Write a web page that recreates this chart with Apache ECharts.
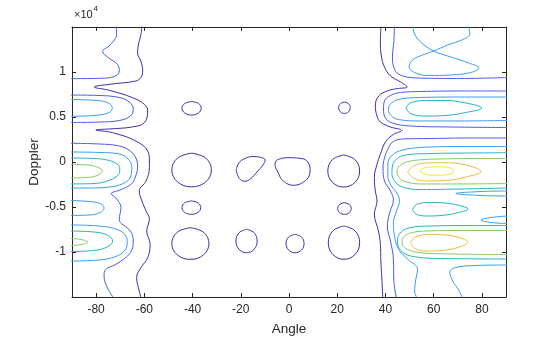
<!DOCTYPE html>
<html><head><meta charset="utf-8">
<script src="https://cdn.jsdelivr.net/npm/echarts@6/dist/echarts.min.js"></script>
<style>html,body{margin:0;padding:0;background:#fff}#c{width:560px;height:337px}</style>
</head><body><div id="c"></div>
<script>
const angleTicks = [-80,-60,-40,-20,0,20,40,60,80];
const dopplerTicks = [-1,-0.5,0,0.5,1];
const levelColors = ['#3e2ea6','#4a5bec','#3a9cf0','#1fb6c2','#88c966','#f6b743','#f3ea22'];

// level 1 (dark)
const c1Left = [[-61.0,1.52],[-61.4,1.42],[-62.4,1.31],[-62.8,1.21],[-61.4,1.12],[-60.7,1.01],[-61.4,0.94],[-63.5,0.9],[-74.6,0.863],[-80.8,0.833],[-74.6,0.797],[-64.9,0.715],[-60.0,0.641],[-58.6,0.567],[-60.0,0.437],[-64.9,0.39],[-74.6,0.367],[-80.1,0.356],[-73.2,0.326],[-63.5,0.233],[-58.6,0.122],[-57.9,0.011],[-57.9,-0.063],[-59.3,-0.211],[-62.1,-0.322],[-61.0,-0.433],[-59.3,-0.544],[-57.9,-0.633],[-59.0,-0.767],[-57.6,-0.914],[-58.6,-1.063],[-61.4,-1.174],[-63.2,-1.286],[-62.1,-1.433],[-61.3,-1.52]];
const c1Right = [[38.2,1.52],[37.9,1.344],[38.3,1.178],[39.6,1.056],[42.1,0.956],[46.25,0.889],[49.0,0.833],[45.4,0.817],[41.25,0.794],[37.2,0.733],[35.8,0.622],[36.5,0.511],[37.9,0.444],[42.1,0.389],[46.7,0.35],[43.3,0.306],[40.0,0.222],[37.9,0.086],[36.5,-0.026],[35.4,-0.174],[35.8,-0.322],[36.5,-0.433],[35.4,-0.578],[37.1,-0.767],[37.9,-0.914],[38.1,-1.1],[38.5,-1.289],[38.9,-1.52]];
const blobA = [[-40.4,0.672],[-37.56,0.65],[-36.4,0.597],[-37.56,0.544],[-40.4,0.522],[-43.24,0.544],[-44.4,0.597],[-43.24,0.65],[-40.4,0.672]];
const blobB = [[23,0.666],[24.7,0.648],[25.4,0.603],[24.7,0.558],[23,0.54],[21.3,0.558],[20.6,0.603],[21.3,0.648],[23,0.666]];
const blobC = [[-40.4,0.098],[-34.58,0.044],[-32.2,-0.089],[-34.58,-0.222],[-40.4,-0.276],[-46.22,-0.222],[-48.6,-0.089],[-46.22,0.044],[-40.4,0.098]];
const blobD = [[-21.9,-0.089],[-20.8,-0.011],[-18.3,0.039],[-15.0,0.061],[-11.7,0.05],[-9.9,0.022],[-10.8,-0.033],[-13.3,-0.111],[-15.8,-0.183],[-18.3,-0.214],[-20.6,-0.183],[-21.9,-0.089]];
const blobE = [[-5.1,0.022],[-1.0,0.048],[4.6,0.041],[7.4,0.011],[8.75,-0.081],[7.4,-0.192],[1.8,-0.259],[-2.4,-0.211],[-4.5,-0.119],[-5.8,-0.026],[-5.1,0.022]];
const blobF = [[22.7,0.078],[27.39,0.026],[29.3,-0.1],[27.39,-0.226],[22.7,-0.278],[18.01,-0.226],[16.1,-0.1],[18.01,0.026],[22.7,0.078]];
const blobG = [[-40.5,-0.433],[-37.73,-0.454],[-36.6,-0.507],[-37.73,-0.56],[-40.5,-0.581],[-43.27,-0.56],[-44.4,-0.507],[-43.27,-0.454],[-40.5,-0.433]];
const blobH = [[23,-0.452],[24.99,-0.471],[25.8,-0.517],[24.99,-0.563],[23,-0.582],[21.01,-0.563],[20.2,-0.517],[21.01,-0.471],[23,-0.452]];
const blobI = [[-40.9,-0.73],[-35.43,-0.781],[-33.2,-0.906],[-35.43,-1.031],[-40.9,-1.082],[-46.37,-1.031],[-48.6,-0.906],[-46.37,-0.781],[-40.9,-0.73]];
const blobJ = [[-17.6,-0.748],[-14.48,-0.786],[-13.2,-0.878],[-14.48,-0.97],[-17.6,-1.008],[-20.72,-0.97],[-22,-0.878],[-20.72,-0.786],[-17.6,-0.748]];
const blobK = [[2.5,-0.804],[5.16,-0.834],[6.25,-0.906],[5.16,-0.978],[2.5,-1.008],[-0.16,-0.978],[-1.25,-0.906],[-0.16,-0.834],[2.5,-0.804]];
const blobL = [[22.8,-0.711],[27.42,-0.765],[29.3,-0.896],[27.42,-1.027],[22.8,-1.081],[18.18,-1.027],[16.3,-0.896],[18.18,-0.765],[22.8,-0.711]];

// level 2
const c2LeftTop = [[-71.7,1.52],[-71.5,1.422],[-74.2,1.3],[-77.3,1.228],[-75.0,1.161],[-71.1,1.083],[-70.4,1.011],[-72.5,0.95],[-78.75,0.93],[-90.5,0.926]];
const c2LeftLobe = [[-90.5,0.744],[-78.75,0.739],[-70.4,0.717],[-66.25,0.667],[-64.6,0.589],[-65.8,0.511],[-70.4,0.461],[-78.75,0.444],[-90.5,0.439]];
const c2LeftLow = [[-90.5,0.208],[-78.75,0.2],[-70.4,0.178],[-65.8,0.122],[-63.3,0.033],[-62.8,-0.056],[-63.75,-0.167],[-65.5,-0.248],[-70.4,-0.314],[-73.75,-0.352],[-71.8,-0.4],[-69.7,-0.508],[-70.4,-0.637],[-65.8,-0.767],[-64.6,-0.878],[-65.8,-1.008],[-71.8,-1.137],[-76.0,-1.192],[-76.7,-1.267],[-75.3,-1.397],[-72.5,-1.52]];
const c2RightTop = [[43.75,1.52],[43.5,1.344],[42.9,1.167],[43.5,1.05],[45.4,0.978],[50.4,0.939],[58.75,0.93],[71.25,0.928],[90.5,0.939]];
const c2RightLobe = [[90.5,0.789],[71.25,0.789],[54.6,0.783],[46.25,0.772],[42.1,0.739],[39.6,0.678],[39.2,0.589],[40.0,0.489],[42.9,0.433],[50.4,0.4],[67.1,0.389],[90.5,0.383]];
const c2RightLow = [[90.5,0.267],[75.4,0.267],[58.75,0.261],[47.5,0.256],[43.3,0.228],[41.25,0.156],[39.6,0.044],[39.0,-0.067],[39.6,-0.211],[42.1,-0.322],[43.3,-0.422],[41.7,-0.567],[40.8,-0.722],[42.1,-0.878],[43.3,-1.078],[43.5,-1.322],[44.6,-1.52]];

// level 3
const c3LeftLobe1 = [[-90.5,0.694],[-80.8,0.686],[-75.4,0.661],[-73.3,0.606],[-74.6,0.55],[-80.8,0.517],[-90.5,0.508]];
const c3LeftLobe2 = [[-90.5,0.111],[-78.75,0.106],[-70.4,0.089],[-66.7,0.033],[-65.2,-0.056],[-65.8,-0.167],[-68.75,-0.239],[-74.6,-0.278],[-82.9,-0.289],[-90.5,-0.289]];
const c3LeftLobe3 = [[-90.5,-0.428],[-82.9,-0.439],[-78.3,-0.461],[-76.7,-0.511],[-78.3,-0.561],[-82.9,-0.589],[-90.5,-0.594]];
const c3LeftLobe4 = [[-90.5,-0.7],[-78.75,-0.711],[-71.25,-0.75],[-67.9,-0.811],[-67.1,-0.894],[-68.3,-0.989],[-72.5,-1.056],[-78.75,-1.089],[-90.5,-1.1]];
const c3RightX = [[51.25,1.52],[52.1,1.422],[54.6,1.333],[60.0,1.233],[67.1,1.167],[74.6,1.1],[78.75,1.044],[75.4,0.994],[67.1,0.967],[57.9,0.961],[52.1,0.994],[49.8,1.056],[51.25,1.133],[55.4,1.189],[60.0,1.233],[65.8,1.3],[72.1,1.361],[75.0,1.422],[74.2,1.52]];
const c3RightLobe = [[90.5,0.722],[71.25,0.722],[54.6,0.717],[46.25,0.7],[42.5,0.656],[41.25,0.589],[42.1,0.522],[45.4,0.472],[54.6,0.456],[71.25,0.456],[90.5,0.461]];
const c3RightLow = [[90.5,0.172],[71.25,0.172],[54.6,0.161],[47.1,0.133],[42.9,0.078],[41.0,-0.022],[41.0,-0.156],[42.5,-0.267],[45.0,-0.356],[45.8,-0.433],[44.6,-0.544],[43.3,-0.678],[43.75,-0.822],[45.4,-0.967],[49.6,-1.089],[53.3,-1.189],[52.5,-1.322],[52.1,-1.433],[53.3,-1.52]];
const c3RightCorner = [[72.1,-1.52],[70.4,-1.422],[67.9,-1.322],[66.7,-1.222],[69.2,-1.172],[77.5,-1.15],[90.5,-1.144]];
const c3RightNotch1 = [[90.5,-0.322],[79.6,-0.328],[69.2,-0.35],[79.6,-0.372],[90.5,-0.378]];
const c3RightNotch2 = [[90.5,-0.6],[83.75,-0.617],[79.6,-0.644],[83.75,-0.672],[90.5,-0.683]];

// level 4
const c4LeftLobe2 = [[-90.5,0.044],[-80.8,0.039],[-74.6,0.017],[-70.8,-0.033],[-70.2,-0.089],[-71.25,-0.156],[-75.4,-0.211],[-80.8,-0.239],[-90.5,-0.244]];
const c4LeftLobe4 = [[-90.5,-0.767],[-80.8,-0.778],[-75.4,-0.811],[-73.1,-0.878],[-75.4,-0.944],[-80.8,-0.983],[-90.5,-0.994]];
const c4RightLobe = [[48.5,0.6],[50.4,0.656],[56.7,0.683],[65.0,0.683],[73.3,0.656],[80.0,0.6],[73.3,0.55],[65.0,0.517],[56.7,0.511],[50.4,0.539],[48.5,0.6]];
const c4RightP1 = [[90.5,0.103],[75.4,0.1],[58.75,0.094],[48.3,0.078],[44.6,0.033],[42.9,-0.044],[42.7,-0.122],[43.75,-0.211],[47.1,-0.278],[54.6,-0.306],[71.25,-0.3],[90.5,-0.289]];
const c4RightP3 = [[51.25,-0.528],[52.9,-0.472],[57.9,-0.45],[65.0,-0.456],[70.4,-0.483],[74.2,-0.522],[70.4,-0.561],[65.0,-0.589],[57.9,-0.6],[52.9,-0.583],[51.25,-0.528]];
const c4RightP2 = [[90.5,-0.706],[75.4,-0.706],[58.75,-0.711],[49.6,-0.733],[45.8,-0.8],[45.0,-0.889],[46.25,-0.978],[50.4,-1.044],[62.9,-1.072],[90.5,-1.078]];

// level 5
const c5LeftLobe2 = [[-90.5,-0.028],[-83.75,-0.033],[-79.6,-0.056],[-77.4,-0.1],[-79.6,-0.15],[-83.75,-0.172],[-90.5,-0.178]];
const c5LeftLobe4 = [[-90.5,-0.85],[-86.25,-0.861],[-83.5,-0.889],[-86.25,-0.917],[-90.5,-0.928]];
const c5RightP1 = [[90.5,0.039],[79.6,0.039],[67.1,0.036],[54.6,0.024],[48.75,0.0],[45.8,-0.044],[44.8,-0.1],[45.4,-0.161],[47.5,-0.211],[54.6,-0.244],[71.25,-0.244],[90.5,-0.239]];
const c5RightP2 = [[90.5,-0.761],[71.25,-0.761],[56.7,-0.767],[50.4,-0.789],[47.5,-0.833],[46.9,-0.889],[47.9,-0.95],[52.5,-1.0],[67.1,-1.022],[90.5,-1.028]];

// level 6
const c6P1 = [[49.2,-0.111],[51.7,-0.044],[56.7,-0.011],[65.0,-0.008],[73.3,-0.033],[79.6,-0.106],[73.3,-0.167],[65.0,-0.206],[56.7,-0.211],[51.7,-0.178],[49.2,-0.111]];
const c6P2 = [[50.4,-0.894],[52.5,-0.833],[57.9,-0.806],[65.0,-0.811],[71.25,-0.844],[74.2,-0.889],[71.25,-0.939],[65.0,-0.978],[57.9,-0.989],[52.5,-0.967],[50.4,-0.894]];

// level 7
const c7P1 = [[54.2,-0.1],[56.7,-0.061],[61.25,-0.053],[66.25,-0.061],[68.3,-0.1],[66.25,-0.139],[61.25,-0.147],[56.7,-0.139],[54.2,-0.1]];

const contourLines = [
  [0,c1Left],[0,c1Right],[0,blobA],[0,blobB],[0,blobC],[0,blobD],[0,blobE],[0,blobF],[0,blobG],[0,blobH],[0,blobI],[0,blobJ],[0,blobK],[0,blobL],
  [1,c2LeftTop],[1,c2LeftLobe],[1,c2LeftLow],[1,c2RightTop],[1,c2RightLobe],[1,c2RightLow],
  [2,c3LeftLobe1],[2,c3LeftLobe2],[2,c3LeftLobe3],[2,c3LeftLobe4],[2,c3RightX],[2,c3RightLobe],[2,c3RightLow],[2,c3RightCorner],[2,c3RightNotch1],[2,c3RightNotch2],
  [3,c4LeftLobe2],[3,c4LeftLobe4],[3,c4RightLobe],[3,c4RightP1],[3,c4RightP3],[3,c4RightP2],
  [4,c5LeftLobe2],[4,c5LeftLobe4],[4,c5RightP1],[4,c5RightP2],
  [5,c6P1],[5,c6P2],
  [6,c7P1]
];

const FONT = '"Liberation Sans", Arial, Helvetica, sans-serif';
const AX = '#262626';
const chart = echarts.init(document.getElementById('c'), null, {renderer:'canvas'});

const series = contourLines.map(([lv, pts]) => ({
  type:'line', data: pts, showSymbol:false, symbol:'none', smooth:0.4, clip:true, silent:true,
  lineStyle:{color: levelColors[lv], width:1}, xAxisIndex:0, yAxisIndex:0, z: 2
}));

function xAx(pos, showLabel){
  return {type:'value', min:-90, max:90, position:pos, gridIndex:0,
    axisLine:{show:true, onZero:false, lineStyle:{color:AX, width:1}},
    axisTick:{show:true, inside:true, length:4, customValues: angleTicks, lineStyle:{color:AX}},
    axisLabel:{show:showLabel, customValues: angleTicks, color:AX, fontSize:12, fontFamily:FONT, margin:7},
    splitLine:{show:false},
    name: showLabel ? 'Angle' : '', nameLocation:'middle', nameGap:25, nameMoveOverlap:false,
    nameTextStyle:{color:AX, fontSize:13.5, fontFamily:FONT}};
}
function yAx(pos, showLabel){
  return {type:'value', min:-1.5, max:1.5, position:pos, gridIndex:0,
    axisLine:{show:true, onZero:false, lineStyle:{color:AX, width:1}},
    axisTick:{show:true, inside:true, length:4, customValues: dopplerTicks, lineStyle:{color:AX}},
    axisLabel:{show:showLabel, customValues: dopplerTicks, color:AX, fontSize:12, fontFamily:FONT, margin:6,
      formatter: v => String(v)},
    splitLine:{show:false},
    name: showLabel ? 'Doppler' : '', nameLocation:'middle', nameGap:31, nameMoveOverlap:false,
    nameTextStyle:{color:AX, fontSize:13.5, fontFamily:FONT}};
}

chart.setOption({
  animation:false,
  backgroundColor:'#fff',
  grid:{left:72, right:54, top:27, bottom:40, containLabel:false, outerBoundsMode:'none'},
  xAxis:[xAx('bottom', true), xAx('top', false)],
  yAxis:[yAx('left', true), yAx('right', false)],
  graphic:[
    {type:'text', left:74, top:9, style:{text:'×10', fontSize:11, fill:AX, fontFamily:FONT}},
    {type:'text', left:93.5, top:5, style:{text:'4', fontSize:8, fill:AX, fontFamily:FONT}}
  ],
  series
});
</script></body></html>
